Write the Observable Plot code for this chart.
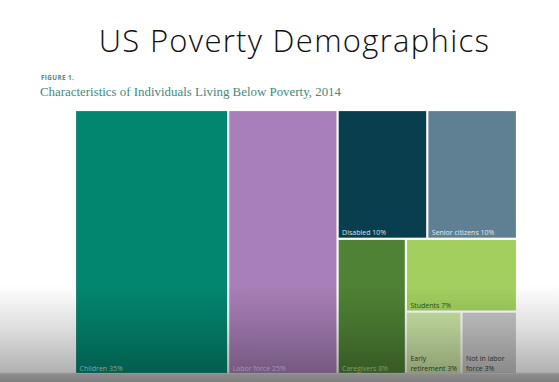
<!DOCTYPE html>
<html>
<head>
<meta charset="utf-8">
<script src="https://cdn.jsdelivr.net/npm/d3@7"></script>
<script src="https://cdn.jsdelivr.net/npm/@observablehq/plot@0.6"></script>
<style>
  html, body { margin: 0; padding: 0; background: #fff; width: 559px; height: 382px; overflow: hidden; position: relative; }
  #title { position: absolute; left: 0; width: 589px; top: 19px; text-align: center; font-family: "Open Sans", sans-serif; font-weight: 300; font-size: 31px; color: #111; line-height: 42px; letter-spacing: 1.3px; white-space: nowrap; }
  #fig { position: absolute; left: 41px; top: 74px; font-family: "Open Sans", sans-serif; font-weight: 700; font-size: 6.3px; color: #4f8c82; letter-spacing: 0.4px; line-height: 8px; }
  #sub { position: absolute; left: 40px; top: 85px; font-family: "Liberation Serif", serif; font-size: 12.9px; color: #3f8a7c; line-height: 14px; white-space: nowrap; }
  #chart { position: absolute; left: 0; top: 105px; }
  #shade { position: absolute; left: 0; top: 0; width: 559px; height: 382px; pointer-events: none;
    background: linear-gradient(to bottom, rgba(0,0,0,0) 0px, rgba(0,0,0,0) 285px, rgba(0,0,0,0.12) 325px, rgba(0,0,0,0.3) 372px, rgba(0,0,0,0.45) 374px, rgba(0,0,0,0.5) 382px); }
</style>
</head>
<body>
<div id="title">US Poverty Demographics</div>
<div id="fig">FIGURE 1.</div>
<div id="sub">Characteristics of Individuals Living Below Poverty, 2014</div>
<div id="chart"></div>
<div id="shade"></div>
<script>
const categories = ["Children", "Labor force", "Disabled", "Senior citizens", "Caregivers", "Students", "Early retirement", "Not in labor force"];
const values = [35, 25, 10, 10, 8, 7, 3, 3];
const labels = ["Children 35%", "Labor force 25%", "Disabled 10%", "Senior citizens 10%", "Caregivers 8%", "Students 7%", "Early\nretirement 3%", "Not in labor\nforce 3%"];
const groups = ["", "", "Other/Top", "Other/Top", "Other/Bottom", "Other/Bottom/Right", "Other/Bottom/Right/Lower", "Other/Bottom/Right/Lower"];
const colors = ["#03866f", "#a87fb8", "#083e4d", "#5f7f93", "#4f8234", "#a2d05f", "#cbe5a6", "#c7c7c7"];
const textColors = ["#b4e2d7", "#e6cdee", "#d8e4e8", "#e2eaef", "#b9d4a3", "#2e5316", "#38482a", "#3a3a3a"];

// build nested hierarchy from the arrays
const rootObj = {name: "root", children: []};
categories.forEach((c, i) => {
  let node = rootObj;
  if (groups[i]) for (const part of groups[i].split("/")) {
    let child = node.children.find(d => d.name === part && d.children);
    if (!child) { child = {name: part, children: []}; node.children.push(child); }
    node = child;
  }
  node.children.push({name: c, value: values[i], i});
});
const h = d3.hierarchy(rootObj).sum(d => d.value || 0);
d3.treemap().tile(d3.treemapSliceDice).size([1, 1]).round(false)(h);
const cells = h.leaves().map(l => ({
  category: l.data.name, i: l.data.i, label: labels[l.data.i],
  x0: l.x0, x1: l.x1, y0: l.y0, y1: l.y1
}));

const plot = Plot.plot({
  width: 559,
  height: 275,
  marginLeft: 75,
  marginRight: 42,
  marginTop: 5,
  marginBottom: 6,
  x: {domain: [0, 1], axis: null},
  y: {domain: [0, 1], reverse: true, axis: null},
  color: {domain: categories, range: colors},
  style: {background: "transparent"},
  marks: [
    Plot.rect(cells, {x1: "x0", x2: "x1", y1: "y0", y2: "y1", fill: "category", inset: 1.1}),
    Plot.text(cells, {x: "x0", y: "y1", text: "label", fill: d => textColors[d.i],
      textAnchor: "start", lineAnchor: "bottom", dx: 4, dy: -4,
      fontSize: 7, fontFamily: "Open Sans, sans-serif", lineHeight: 1.35})
  ]
});
document.getElementById("chart").appendChild(plot);
</script>
</body>
</html>
